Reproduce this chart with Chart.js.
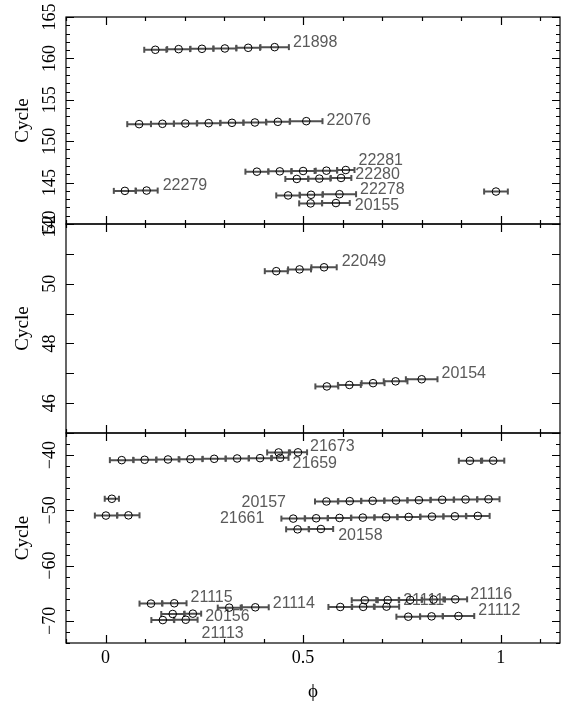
<!DOCTYPE html>
<html><head><meta charset="utf-8">
<script src="https://cdn.jsdelivr.net/npm/chart.js@4"></script>
<style>html,body{margin:0;padding:0;background:#fff}</style>
</head><body>
<canvas id="c" width="567" height="704"></canvas>
<script>
// ---------- axis ticks ----------
const xTickValues = [-0.1, 0, 0.1, 0.2, 0.3, 0.4, 0.5, 0.6, 0.7, 0.8, 0.9, 1, 1.1];
const xLabelValues = [0, 0.5, 1];
const xLabelTexts = ['0', '0.5', '1'];
const topLabelValues = [140, 145, 150, 155, 160, 165];
const midLabelValues = [46, 48, 50, 52];
const botLabelValues = [-70, -60, -50, -40];
const botLabelTexts = ['\u221270', '\u221260', '\u221250', '\u221240'];

// ---------- top panel (cycles 140-165) ----------
const x21898 = [0.126, 0.185, 0.244, 0.302, 0.361, 0.428];
const y21898 = [161.04, 161.12, 161.16, 161.20, 161.28, 161.36];
const e21898 = [0.028, 0.029, 0.029, 0.029, 0.030, 0.036];
const x22076 = [0.085, 0.144, 0.202, 0.261, 0.320, 0.378, 0.436, 0.508];
const y22076 = [152.06, 152.10, 152.14, 152.18, 152.22, 152.26, 152.34, 152.42];
const e22076 = [0.030, 0.029, 0.029, 0.029, 0.029, 0.029, 0.030, 0.041];
const x22281 = [0.383, 0.441, 0.500, 0.559, 0.608];
const y22281 = [146.32, 146.36, 146.40, 146.44, 146.52];
const e22281 = [0.029, 0.029, 0.029, 0.027, 0.022];
const x22280 = [0.484, 0.541, 0.596];
const y22280 = [145.44, 145.48, 145.56];
const e22280 = [0.029, 0.028, 0.026];
const x22279 = [0.049, 0.104];
const y22279 = [144.00, 144.04];
const e22279 = [0.028, 0.028];
const x22279b = [0.988];
const y22279b = [143.92];
const e22279b = [0.030];
const x22278 = [0.462, 0.520, 0.592];
const y22278 = [143.45, 143.53, 143.60];
const e22278 = [0.030, 0.029, 0.042];
const x20155 = [0.519, 0.583];
const y20155 = [142.49, 142.53];
const e20155 = [0.029, 0.035];

// ---------- middle panel (cycles 45-52) ----------
const x22049 = [0.432, 0.491, 0.553];
const y22049 = [50.42, 50.48, 50.55];
const e22049 = [0.029, 0.029, 0.032];
const x20154 = [0.560, 0.617, 0.677, 0.734, 0.800];
const y20154 = [46.56, 46.61, 46.67, 46.73, 46.80];
const e20154 = [0.029, 0.029, 0.029, 0.030, 0.040];

// ---------- bottom panel (cycles -74 to -36) ----------
const x21673 = [0.438, 0.487];
const y21673 = [-39.52, -39.50];
const e21673 = [0.029, 0.023];
const x21659 = [0.041, 0.099, 0.158, 0.215, 0.275, 0.333, 0.391, 0.442];
const y21659 = [-40.91, -40.85, -40.79, -40.73, -40.67, -40.61, -40.55, -40.50];
const e21659 = [0.030, 0.029, 0.029, 0.030, 0.029, 0.029, 0.028, 0.021];
const x21659b = [0.922, 0.981];
const y21659b = [-41.03, -41.00];
const e21659b = [0.028, 0.028];
const x20157 = [0.559, 0.618, 0.676, 0.735, 0.793, 0.852, 0.911, 0.969];
const y20157 = [-48.39, -48.33, -48.27, -48.21, -48.15, -48.09, -48.03, -47.98];
const e20157 = [0.029, 0.029, 0.029, 0.029, 0.029, 0.029, 0.029, 0.028];
const x20157b = [0.016];
const y20157b = [-47.90];
const e20157b = [0.018];
const x21661 = [0.475, 0.533, 0.592, 0.651, 0.710, 0.767, 0.826, 0.884, 0.942];
const y21661 = [-51.49, -51.43, -51.37, -51.31, -51.25, -51.19, -51.13, -51.07, -51.00];
const e21661 = [0.030, 0.029, 0.029, 0.029, 0.029, 0.029, 0.029, 0.029, 0.030];
const x21661b = [0.001, 0.058];
const y21661b = [-50.94, -50.90];
const e21661b = [0.028, 0.028];
const x20158 = [0.486, 0.545];
const y20158 = [-53.43, -53.37];
const e20158 = [0.029, 0.031];
const x21115 = [0.115, 0.174];
const y21115 = [-66.87, -66.81];
const e21115 = [0.029, 0.031];
const x21114 = [0.313, 0.379];
const y21114 = [-67.60, -67.54];
const e21114 = [0.029, 0.034];
const x20156 = [0.170, 0.221];
const y20156 = [-68.75, -68.69];
const e20156 = [0.029, 0.021];
const x21113 = [0.145, 0.203];
const y21113 = [-69.85, -69.79];
const e21113 = [0.029, 0.030];
const x21116 = [0.656, 0.714, 0.771, 0.830, 0.885];
const y21116 = [-66.26, -66.24, -66.20, -66.14, -66.10];
const e21116 = [0.033, 0.029, 0.029, 0.029, 0.030];
const x21111 = [0.594, 0.652, 0.711];
const y21111 = [-67.48, -67.46, -67.42];
const e21111 = [0.030, 0.029, 0.032];
const x21112 = [0.766, 0.825, 0.893];
const y21112 = [-69.24, -69.18, -69.12];
const e21112 = [0.030, 0.029, 0.040];

const series = [
  {name:'21898', panel:'yTop', x:x21898, y:y21898, e:e21898},
  {name:'22076', panel:'yTop', x:x22076, y:y22076, e:e22076},
  {name:'22281', panel:'yTop', x:x22281, y:y22281, e:e22281},
  {name:'22280', panel:'yTop', x:x22280, y:y22280, e:e22280},
  {name:'22279', panel:'yTop', x:x22279, y:y22279, e:e22279},
  {name:'',      panel:'yTop', x:x22279b, y:y22279b, e:e22279b},
  {name:'22278', panel:'yTop', x:x22278, y:y22278, e:e22278},
  {name:'20155', panel:'yTop', x:x20155, y:y20155, e:e20155},
  {name:'22049', panel:'yMid', x:x22049, y:y22049, e:e22049},
  {name:'20154', panel:'yMid', x:x20154, y:y20154, e:e20154},
  {name:'21673', panel:'yBot', x:x21673, y:y21673, e:e21673},
  {name:'21659', panel:'yBot', x:x21659, y:y21659, e:e21659},
  {name:'',      panel:'yBot', x:x21659b, y:y21659b, e:e21659b},
  {name:'20157', panel:'yBot', x:x20157, y:y20157, e:e20157},
  {name:'',      panel:'yBot', x:x20157b, y:y20157b, e:e20157b},
  {name:'21661', panel:'yBot', x:x21661, y:y21661, e:e21661},
  {name:'',      panel:'yBot', x:x21661b, y:y21661b, e:e21661b},
  {name:'20158', panel:'yBot', x:x20158, y:y20158, e:e20158},
  {name:'21115', panel:'yBot', x:x21115, y:y21115, e:e21115},
  {name:'21114', panel:'yBot', x:x21114, y:y21114, e:e21114},
  {name:'20156', panel:'yBot', x:x20156, y:y20156, e:e20156},
  {name:'21113', panel:'yBot', x:x21113, y:y21113, e:e21113},
  {name:'21116', panel:'yBot', x:x21116, y:y21116, e:e21116},
  {name:'21111', panel:'yBot', x:x21111, y:y21111, e:e21111},
  {name:'21112', panel:'yBot', x:x21112, y:y21112, e:e21112}
];

// label placement (style): side, pixel dx, pixel dy
const labelPlace = {
  '21898':['r',4,-5], '22076':['r',4,-1], '22281':['r',4,-9], '22280':['r',4,-3],
  '22279':['r',5,-5], '22278':['r',4,-5], '20155':['r',5,3],
  '22049':['r',5,-6], '20154':['r',4,-6],
  '21673':['r',3,-6], '21659':['r',4,6], '20157':['l',-29,1], '21661':['l',-17,0],
  '20158':['r',5,7], '21115':['r',4,-6], '21114':['r',4,-4], '20156':['r',4,3],
  '21113':['r',4,14], '21116':['r',3,-5], '21111':['r',4,-6], '21112':['r',4,-5]
};

const panelDefs = {
  yTop:{min:140, max:165, step:1, major:5, labels:topLabelValues, texts:topLabelValues.map(String), weight:207, order:3},
  yMid:{min:45, max:52, step:1, major:1, labels:midLabelValues, texts:midLabelValues.map(String), weight:209, order:2},
  yBot:{min:-74, max:-36, step:2, major:10, labels:botLabelValues, texts:botLabelTexts, weight:210, order:1}
};

const datasets = [];
Object.keys(panelDefs).forEach(p => {
  const bars = [], pts = [];
  series.filter(s => s.panel === p).forEach(s => {
    s.x.forEach((xv, i) => {
      bars.push({x: xv - s.e[i], y: s.y[i]}, {x: xv + s.e[i], y: s.y[i]}, {x: xv + s.e[i], y: null});
      pts.push({x: xv, y: s.y[i]});
    });
  });
  datasets.push({type:'line', data:bars, xAxisID:'x', yAxisID:p, borderColor:'#505050', borderWidth:2,
    pointStyle:'line', pointRotation:90, pointRadius:3, pointHoverRadius:3, pointBorderColor:'#505050',
    pointBorderWidth:2, spanGaps:false, fill:false, tension:0, order:2});
  datasets.push({type:'scatter', data:pts, xAxisID:'x', yAxisID:p, showLine:false, pointStyle:'circle',
    pointRadius:3.8, pointHoverRadius:3.8, borderColor:'#000', pointBorderColor:'#000',
    backgroundColor:'rgba(0,0,0,0)', pointBackgroundColor:'rgba(0,0,0,0)', pointBorderWidth:1, order:1});
});

function yAxis(id) {
  const d = panelDefs[id];
  return {type:'linear', position:'left', stack:'cycles', stackWeight:d.weight, weight:d.order,
    min:d.min, max:d.max,
    grid:{display:false, drawTicks:false}, border:{display:false}, ticks:{display:false},
    title:{display:true, text:'Cycle', color:'#000', font:{family:'Liberation Serif', size:19}, padding:{top:12, bottom:0}},
    afterFit(s){ s.width = 66; }};
}

const near = (a, b) => Math.abs(a - b) < 1e-9;

const framePlugin = {
  id:'frame',
  beforeDatasetsDraw(chart) {
    const ctx = chart.ctx, xs = chart.scales.x;
    ctx.save();
    ctx.font = '16px "Liberation Sans", Arial, sans-serif';
    ctx.fillStyle = '#5a5a5a';
    ctx.textBaseline = 'middle';
    series.forEach(s => {
      if (!s.name) return;
      const ys = chart.scales[s.panel];
      const [side, dx, dy] = labelPlace[s.name];
      const n = s.x.length - 1;
      if (side === 'r') {
        ctx.textAlign = 'left';
        ctx.fillText(s.name, xs.getPixelForValue(s.x[n] + s.e[n]) + dx, ys.getPixelForValue(s.y[n]) + dy);
      } else {
        ctx.textAlign = 'right';
        ctx.fillText(s.name, xs.getPixelForValue(s.x[0] - s.e[0]) + dx, ys.getPixelForValue(s.y[0]) + dy);
      }
    });
    ctx.restore();
  },
  afterDraw(chart) {
    const ctx = chart.ctx, xs = chart.scales.x;
    ctx.save();
    ctx.strokeStyle = '#000';
    ctx.lineWidth = 1.2;
    Object.keys(panelDefs).forEach(id => {
      const d = panelDefs[id], ys = chart.scales[id];
      const L = xs.left, R = xs.right, T = ys.top, B = ys.bottom;
      ctx.strokeRect(L, T, R - L, B - T);
      ctx.beginPath();
      xTickValues.forEach(v => {
        const px = Math.round(xs.getPixelForValue(v)) + 0.5;
        const len = xLabelValues.some(t => near(t, v)) ? 8 : 4;
        ctx.moveTo(px, T); ctx.lineTo(px, T + len);
        ctx.moveTo(px, B); ctx.lineTo(px, B - len);
      });
      for (let v = Math.ceil(d.min / d.step) * d.step; v <= d.max + 1e-9; v += d.step) {
        const py = Math.round(ys.getPixelForValue(v)) + 0.5;
        const len = (Math.abs(v % d.major) < 1e-9) ? 8 : 4;
        ctx.moveTo(L, py); ctx.lineTo(L + len, py);
        ctx.moveTo(R, py); ctx.lineTo(R - len, py);
      }
      ctx.stroke();
      // y tick labels (rotated like the reference)
      ctx.fillStyle = '#000';
      ctx.font = '18px "Liberation Serif", "Times New Roman", serif';
      ctx.textAlign = 'center';
      ctx.textBaseline = 'middle';
      d.labels.forEach((v, i) => {
        ctx.save();
        ctx.translate(50, ys.getPixelForValue(v));
        ctx.rotate(-Math.PI / 2);
        ctx.fillText(d.texts[i], 0, 0);
        ctx.restore();
      });
    });
    ctx.restore();
  }
};

new Chart(document.getElementById('c'), {
  data:{datasets},
  options:{
    responsive:false, animation:false, devicePixelRatio:1,
    layout:{padding:{left:0, right:7, top:17, bottom:0}},
    plugins:{legend:{display:false}, tooltip:{enabled:false}},
    scales:{
      x:{type:'linear', position:'bottom', min:-0.1, max:1.15,
        grid:{display:false, drawTicks:false}, border:{display:false},
        afterBuildTicks(s){ s.ticks = xTickValues.map(v => ({value:v})); },
        ticks:{autoSkip:false, maxRotation:0, minRotation:0, padding:4, color:'#000',
          font:{family:'Liberation Serif', size:18},
          callback(v){ const i = xLabelValues.findIndex(t => near(t, v)); return i >= 0 ? xLabelTexts[i] : ''; }},
        title:{display:true, text:'\u03D5', color:'#000', font:{family:'Liberation Serif', size:19}, padding:{top:0, bottom:1}},
        afterFit(s){ s.height = 61; }},
      yTop:yAxis('yTop'),
      yMid:yAxis('yMid'),
      yBot:yAxis('yBot')
    }
  },
  plugins:[framePlugin]
});
</script>
</body></html>
